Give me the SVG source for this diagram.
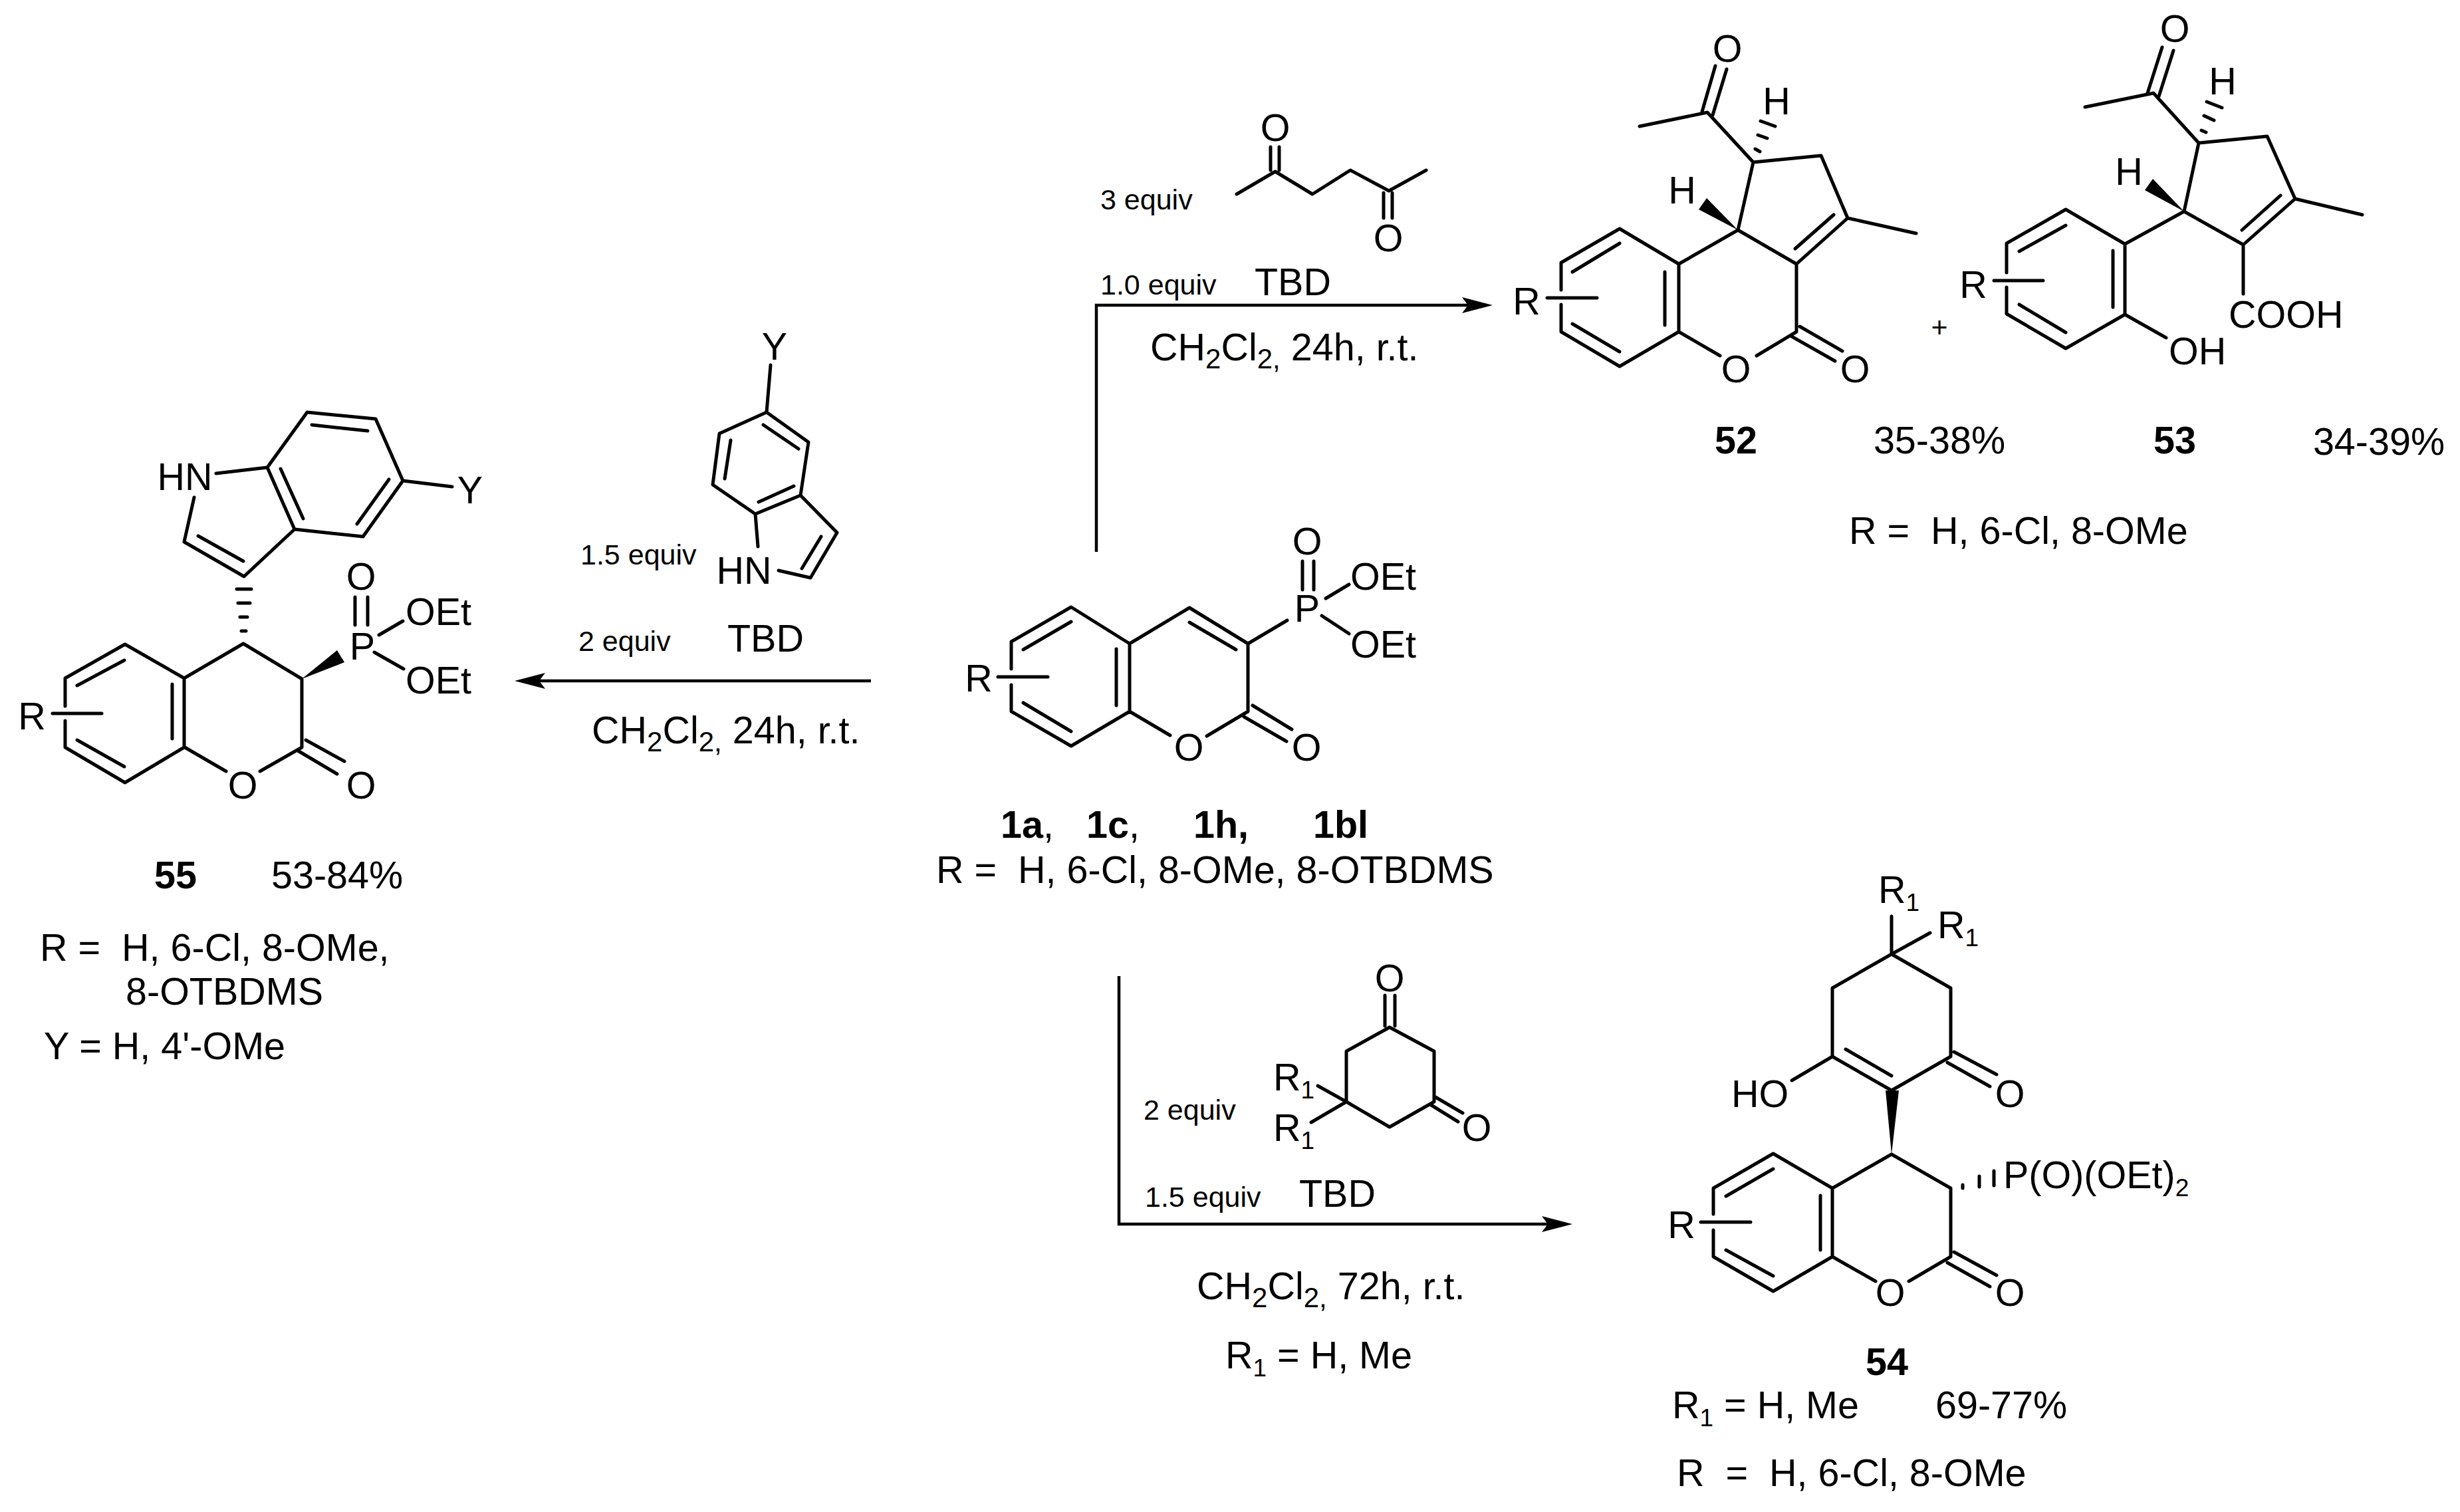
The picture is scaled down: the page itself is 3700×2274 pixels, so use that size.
<svg xmlns="http://www.w3.org/2000/svg" width="3700" height="2274" viewBox="0 0 3700 2274">
<style>
text{font-family:"Liberation Sans",Arial,sans-serif;font-size:57.5px;fill:#000}
.s{font-size:43px}
.k{font-weight:700}
.m{text-anchor:middle}
.u{font-size:42px}
.v{font-size:37px}
.b{fill:none;stroke:#000;stroke-width:5;stroke-linejoin:round;stroke-linecap:round}
.h{fill:none;stroke:#000;stroke-width:5;stroke-linecap:round}
.w{fill:#000}
.c{fill:none;stroke:#000;stroke-width:4.5;stroke-linejoin:miter}
</style>
<defs>
<marker id="arrow" markerUnits="userSpaceOnUse" markerWidth="48" markerHeight="28" refX="36" refY="12" orient="auto">
<path d="M0,0 L46,12 L0,24 L9,12 Z" fill="#000"/>
</marker>
</defs>
<rect width="3700" height="2274" fill="#fff"/>

<g id="connectors">
<path class="c" d="M1649,830 V459 H2235" marker-end="url(#arrow)"/>
<path class="c" d="M1310,1024 H784" marker-end="url(#arrow)"/>
<path class="c" d="M1683,1468 V1841 H2355" marker-end="url(#arrow)"/>
</g>

<g id="compound-1">
<path class="b" d="M1877,968 L1789,914 L1699,968 L1611,913 L1521,965 V1006 M1521,1030 V1070 L1611,1122 L1699,1070 V968 M1699,1070 L1760,1106 M1877,968 V1070 L1815,1107 M1877,968 L1936,933 M1789,936 L1859,977 M1679,976 V1061 M1539,977 L1611,935 M1539,1057 L1611,1100 M1884,1061 L1943,1097 M1871,1078 L1935,1115 M1959,844 V887 M1976,844 V887 M1994,900 L2029,879 M1988,926 L2029,953 M1501,1018 H1576"/>
<text class="m" x="1966" y="935">P</text>
<text class="m" x="1966" y="834">O</text>
<text x="2031" y="887">OEt</text>
<text x="2031" y="989">OEt</text>
<text class="m" x="1472" y="1040">R</text>
<text class="m" x="1788" y="1144">O</text>
<text class="m" x="1965" y="1144">O</text>
<text x="1505" y="1260"><tspan class="k">1a</tspan>,</text>
<text x="1634" y="1260"><tspan class="k">1c</tspan>,</text>
<text class="k" x="1795" y="1260">1h,</text>
<text class="k" x="1975" y="1260">1bl</text>
<text x="1408" y="1328" xml:space="preserve">R =  H, 6-Cl, 8-OMe, 8-OTBDMS</text>
</g>

<g id="reagent-hexanedione">
<path class="b" d="M1860,292 L1918,258 L1974,292 L2031,256 L2089,287 L2145,256 M1911,221 V256 M1924,221 V256 M2081,290 V328 M2094,290 V328"/>
<text class="m" x="1918" y="212">O</text>
<text class="m" x="2088" y="378">O</text>
<text class="s" x="1655" y="315">3 equiv</text>
<text class="s" x="1655" y="443">1.0 equiv</text>
<text x="1887" y="444">TBD</text>
<text x="1730" y="542">CH<tspan class="u" dy="12">2</tspan><tspan dy="-12">Cl</tspan><tspan class="u" dy="12">2,</tspan><tspan dy="-12"> 24h, r.t.</tspan></text>
</g>

<g id="compound-52">
<path class="b" d="M2466,190 L2568,169 L2637,244 L2739,234 L2779,328 L2882,351 M2779,328 L2702,397 L2614,346 L2637,244 M2702,397 V499 L2642,535 M2614,346 L2525,397 V499 L2436,551 L2348,499 V458 M2348,436 V395 L2436,344 L2525,397 M2525,499 L2587,535 M2560,168 L2580,99 M2576,173 L2597,104 M2700,374 L2758,323 M2504,409 V489 M2365,409 L2436,366 M2365,487 L2436,529 M2707,491 L2771,528 M2693,505 L2760,543 M2327,448 H2402"/>
<path class="w" d="M2614,346 L2555,315 L2567,298 Z"/>
<path class="h" d="M2648,182 L2670,190 M2644,203 L2658,208 M2640,224 L2647,228"/>
<text class="m" x="2598" y="93">O</text>
<text class="m" x="2672" y="172">H</text>
<text class="m" x="2530" y="306">H</text>
<text class="m" x="2296" y="473">R</text>
<text class="m" x="2611" y="575">O</text>
<text class="m" x="2790" y="575">O</text>
<text class="k m" x="2611" y="682">52</text>
<text class="m" x="2917" y="682">35-38%</text>
</g>

<text class="s m" id="plus" x="2917" y="507">+</text>

<g id="compound-53">
<path class="b" d="M3136,161 L3239,140 L3307,215 L3410,205 L3452,299 L3553,323 M3452,299 L3374,368 L3285,318 L3307,215 M3374,368 V442 M3285,318 L3196,367 V473 L3107,524 L3018,472 V432 M3018,410 V366 L3107,315 L3196,367 M3196,473 L3258,508 M3230,140 L3252,71 M3247,145 L3269,76 M3372,346 L3430,294 M3178,377 V462 M3037,378 L3107,339 M3037,458 L3107,500 M2999,422 H3073"/>
<path class="w" d="M3285,318 L3226,286 L3238,269 Z"/>
<path class="h" d="M3319,153 L3342,162 M3315,174 L3330,181 M3311,196 L3318,199"/>
<text class="m" x="3271" y="63">O</text>
<text class="m" x="3343" y="142">H</text>
<text class="m" x="3202" y="278">H</text>
<text class="m" x="2968" y="448">R</text>
<text x="3352" y="493">COOH</text>
<text x="3262" y="548">OH</text>
<text class="k m" x="3271" y="682">53</text>
<text class="m" x="3578" y="684">34-39%</text>
<text id="r-52-53" x="2781" y="818" xml:space="preserve">R =  H, 6-Cl, 8-OMe</text>
</g>

<g id="reagent-indole">
<path class="b" d="M1159,549 L1153,620 L1216,665 L1204,745 L1136,773 L1072,729 L1082,652 L1153,620 M1204,745 L1259,801 L1219,869 L1171,858 M1136,773 L1140,822 M1148,639 L1201,675 M1099,662 L1090,720 M1141,755 L1194,731 M1235,807 L1206,855"/>
<text class="m" x="1165" y="541">Y</text>
<text class="m" x="1119" y="878">HN</text>
<text class="s" x="873" y="849">1.5 equiv</text>
<text class="s" x="870" y="979">2 equiv</text>
<text x="1094" y="980">TBD</text>
<text x="890" y="1118">CH<tspan class="u" dy="12">2</tspan><tspan dy="-12">Cl</tspan><tspan class="u" dy="12">2,</tspan><tspan dy="-12"> 24h, r.t.</tspan></text>
</g>

<g id="compound-55">
<path class="b" d="M402,703 L462,620 L565,630 L606,723 L546,807 L443,796 L402,703 M469,639 L553,648 M585,721 L537,788 M422,705 L456,780 M606,723 L680,732 M325,712 L402,703 M292,748 L277,815 L367,867 L443,796 M298,806 L366,844 M277,1020 L366,968 L454,1021 V1124 L391,1160 M278,1124 L340,1160 M277,1020 V1124 L188,1177 L98,1124 V1084 M98,1062 V1020 L188,969 L277,1020 M259,1029 V1111 M116,1031 L187,993 M116,1113 L187,1153 M460,1113 L518,1145 M448,1129 L507,1164 M534,898 V940 M553,898 V940 M570,955 L606,934 M563,981 L607,1006 M79,1073 H153"/>
<path class="w" d="M454,1021 L518,996 L507,978 Z"/>
<path class="h" d="M356,886 H378 M358,907 H376 M361,928 H372 M363,949 H370"/>
<text class="m" x="707" y="757">Y</text>
<text class="m" x="278" y="737">HN</text>
<text class="m" x="545" y="992">P</text>
<text class="m" x="543" y="887">O</text>
<text x="610" y="940">OEt</text>
<text x="610" y="1043">OEt</text>
<text class="m" x="48" y="1097">R</text>
<text class="m" x="365" y="1201">O</text>
<text class="m" x="543" y="1201">O</text>
<text class="k m" x="264" y="1336">55</text>
<text x="408" y="1336">53-84%</text>
<text x="60" y="1445" xml:space="preserve">R =  H, 6-Cl, 8-OMe,</text>
<text x="189" y="1511">8-OTBDMS</text>
<text x="66" y="1593">Y = H, 4'-OMe</text>
</g>

<g id="reagent-dione">
<path class="b" d="M2090,1545 L2157,1581 V1657 L2090,1695 L2025,1657 V1581 L2090,1545 M2083,1497 V1543 M2098,1497 V1543 M2159,1650 L2200,1674 M2151,1661 L2193,1687 M2025,1657 L1982,1633 M2025,1657 L1972,1688"/>
<text class="m" x="2090" y="1491">O</text>
<text class="m" x="2221" y="1716">O</text>
<text x="1915" y="1640">R<tspan class="v" dy="12">1</tspan></text>
<text x="1915" y="1716">R<tspan class="v" dy="12">1</tspan></text>
<text class="s" x="1720" y="1684">2 equiv</text>
<text class="s" x="1722" y="1815">1.5 equiv</text>
<text x="1954" y="1815">TBD</text>
<text x="1800" y="1954">CH<tspan class="u" dy="12">2</tspan><tspan dy="-12">Cl</tspan><tspan class="u" dy="12">2,</tspan><tspan dy="-12"> 72h, r.t.</tspan></text>
<text x="1843" y="2058">R<tspan class="v" dy="12">1</tspan><tspan dy="-12"> = H, Me</tspan></text>
</g>

<g id="compound-54">
<path class="b" d="M2845,1378 V1435 M2903,1403 L2845,1435 L2934,1486 V1589 L2845,1640 L2756,1589 V1486 L2845,1435 M2776,1578 L2845,1618 M2756,1589 L2695,1625 M2939,1582 L3003,1616 M2929,1598 L2993,1634 M2756,1787 L2845,1736 L2934,1787 V1890 L2871,1927 M2756,1890 L2821,1927 M2756,1787 V1890 L2667,1942 L2577,1890 V1850 M2577,1826 V1787 L2667,1735 L2756,1787 M2738,1798 V1880 M2596,1799 L2667,1758 M2596,1880 L2667,1919 M2939,1883 L3003,1918 M2929,1899 L2993,1935 M2558,1838 H2633"/>
<path class="w" d="M2836,1640 L2856,1640 L2845,1736 Z"/>
<path class="h" d="M2952,1782 V1787 M2977,1769 V1785 M2999,1761 V1783"/>
<text x="2825" y="1358">R<tspan class="v" dy="12">1</tspan></text>
<text x="2914" y="1411">R<tspan class="v" dy="12">1</tspan></text>
<text x="2604" y="1665">HO</text>
<text class="m" x="3023" y="1665">O</text>
<text x="3013" y="1787">P(O)(OEt)<tspan class="v" dy="12">2</tspan></text>
<text class="m" x="2529" y="1862">R</text>
<text class="m" x="2843" y="1964">O</text>
<text class="m" x="3023" y="1964">O</text>
<text class="k m" x="2838" y="2068">54</text>
<text x="2515" y="2133">R<tspan class="v" dy="12">1</tspan><tspan dy="-12"> = H, Me</tspan></text>
<text x="2911" y="2133">69-77%</text>
<text x="2522" y="2235" xml:space="preserve">R  =  H, 6-Cl, 8-OMe</text>
</g>
</svg>
